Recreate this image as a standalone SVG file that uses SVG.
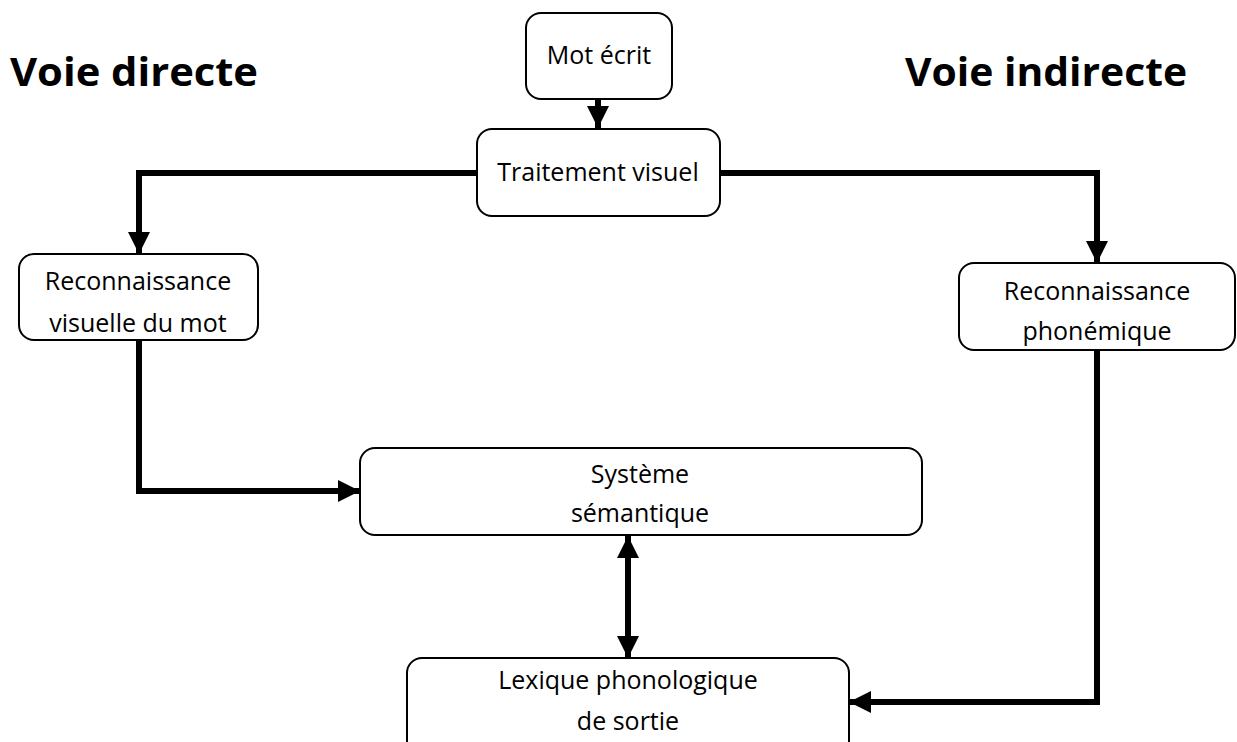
<svg xmlns="http://www.w3.org/2000/svg" width="1237" height="742" viewBox="0 0 1237 742">
<style>
.box{fill:#fff;stroke:#000;stroke-width:2}
.lbl{font-family:"Open Sans","DejaVu Sans",sans-serif;font-size:25px;fill:#000;text-anchor:middle}
.title{font-family:"Open Sans","DejaVu Sans",sans-serif;font-size:40px;font-weight:bold;fill:#000}
.wire{fill:none;stroke:#000;stroke-width:6;stroke-linejoin:miter}
</style>
<defs>
<marker id="ah" markerUnits="userSpaceOnUse" markerWidth="22" markerHeight="22" viewBox="0 0 20 20" refX="20" refY="10" orient="auto-start-reverse">
<path d="M0,0 L20,10 L0,20 Z" fill="#000"/>
</marker>
</defs>
<rect width="1237" height="742" fill="#fff"/>
<text class="title" x="10" y="86" textLength="248" lengthAdjust="spacingAndGlyphs">Voie directe</text>
<text class="title" x="905" y="86" textLength="282" lengthAdjust="spacingAndGlyphs">Voie indirecte</text>
<g id="connectors">
<path class="wire" d="M598,99 L598,128" stroke-width="8" marker-end="url(#ah)"/>
<path class="wire" d="M477,173 L139,173 L139,254" marker-end="url(#ah)"/>
<path class="wire" d="M720,173 L1097,173 L1097,263" marker-end="url(#ah)"/>
<path class="wire" d="M139,340 L139,491 L360,491" marker-end="url(#ah)"/>
<path class="wire" d="M1097,350 L1097,702 L849,702" marker-end="url(#ah)"/>
<path class="wire" d="M628,536 L628,658" marker-start="url(#ah)" marker-end="url(#ah)"/>
</g>
<g id="mot-ecrit">
<rect class="box" x="526" y="13" width="146" height="86" rx="15"/>
<text class="lbl" x="599" y="64">Mot écrit</text>
</g>
<g id="traitement-visuel">
<rect class="box" x="477" y="129" width="243" height="87" rx="15"/>
<text class="lbl" x="598" y="181">Traitement visuel</text>
</g>
<g id="reco-visuelle">
<rect class="box" x="19" y="254" width="239" height="86" rx="15"/>
<text class="lbl" x="138" y="290">Reconnaissance</text>
<text class="lbl" x="138" y="332">visuelle du mot</text>
</g>
<g id="reco-phonemique">
<rect class="box" x="959" y="263" width="276" height="87" rx="15"/>
<text class="lbl" x="1097" y="300">Reconnaissance</text>
<text class="lbl" x="1097" y="340">phonémique</text>
</g>
<g id="systeme-semantique">
<rect class="box" x="360" y="448" width="562" height="87" rx="15"/>
<text class="lbl" x="640" y="483">Système</text>
<text class="lbl" x="640" y="522">sémantique</text>
</g>
<g id="lexique">
<rect class="box" x="407" y="658" width="442" height="100" rx="15"/>
<text class="lbl" x="628" y="689">Lexique phonologique</text>
<text class="lbl" x="628" y="730">de sortie</text>
</g>
</svg>
